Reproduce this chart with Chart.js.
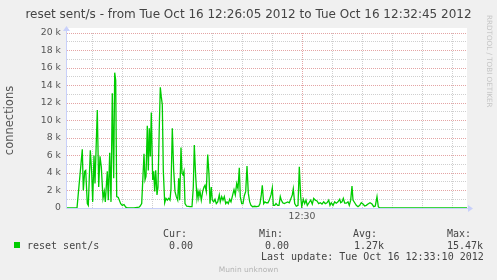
<!DOCTYPE html>
<html lang="en">
<head>
    <meta charset="UTF-8">
    <title>reset sent/s</title>
    <script src="https://cdn.jsdelivr.net/npm/chart.js"></script>
    <style>
        html, body { margin: 0; padding: 0; background: #f0f0f0; }
        #wrap { position: relative; width: 497px; height: 280px; overflow: hidden; }
        #chart { position: absolute; left: 0; top: 0; }
        .t { position: absolute; white-space: pre; line-height: 1; color: #444; }
        .sans { font-family: "DejaVu Sans", sans-serif; }
        .mono { font-family: "DejaVu Sans Mono", monospace; font-size: 10px; }
    </style>
</head>
<body>
    <div id="wrap">
        <canvas id="chart" width="497" height="280"></canvas>
        <div class="t sans" style="left:0; width:497px; text-align:center; top:8px; font-size:12px;">reset sent/s - from Tue Oct 16 12:26:05 2012 to Tue Oct 16 12:32:45 2012</div>
        <div class="t sans" style="left:493px; top:15px; font-size:7.2px; color:#c4c4c4; transform:rotate(90deg); transform-origin:0 0;">RRDTOOL / TOBI OETIKER</div>

        <!-- legend -->
        <div style="position:absolute; left:14px; top:242px; width:6px; height:6px; background:#00cc00;"></div>
        <div class="t mono" style="left:27px; top:240.5px;">reset sent/s</div>
        <div class="t mono" style="left:163px; top:229.2px;">Cur:</div>
        <div class="t mono" style="left:169px; top:240.5px;">0.00</div>
        <div class="t mono" style="left:259px; top:229.2px;">Min:</div>
        <div class="t mono" style="left:265px; top:240.5px;">0.00</div>
        <div class="t mono" style="left:353px; top:229.2px;">Avg:</div>
        <div class="t mono" style="left:354px; top:240.5px;">1.27k</div>
        <div class="t mono" style="left:447px; top:229.2px;">Max:</div>
        <div class="t mono" style="left:447px; top:240.5px;">15.47k</div>
        <div class="t mono" style="left:261px; top:252px;">Last update: Tue Oct 16 12:33:10 2012</div>
        <div class="t sans" style="left:0; width:497px; text-align:center; top:265.7px; font-size:7.5px; color:#b4b4b4;">Munin unknown</div>
    </div>

    <script>
        // seconds after 12:26:05
        const seconds = [0, 10, 15.3, 16.3, 17.7, 18.7, 20.3, 21.3, 23.3, 24.7, 25.7, 27, 28, 30.3, 31.7, 33, 34.3, 36, 37.3, 38.3,
            40.3, 41.3, 42.7, 44, 45.3, 46.7, 47.7, 48.7, 49.7, 51.3, 52.3, 53.7, 55.3, 57, 58.7, 61, 67, 72, 73, 74.7,
            77, 78, 79, 80.3, 81.3, 82.3, 83.3, 84.3, 85.7, 86.7, 87.7, 88.7, 90, 91, 92.3, 93.3, 94.3, 95.3, 96.3, 97.7,
            99, 100.3, 101.7, 103, 104, 105.3, 106.7, 108, 109.3, 110.7, 111.7, 112.7, 114, 115, 116, 117, 118, 119.7, 123, 125,
            126.3, 127.3, 128.7, 130, 131, 131.9, 133, 134.3, 135.7, 137, 138, 139.3, 140.7, 142, 143, 144.3, 145.3, 146.7, 148, 149.3,
            150.7, 152.3, 153.3, 154.7, 156, 157.3, 158.7, 160, 161.3, 162.7, 164, 165.7, 167, 168.3, 169.7, 171, 172.3, 173.3, 174.7, 176,
            177.3, 178.7, 180, 181.3, 182.7, 184, 185.7, 187.7, 189.7, 191.7, 193, 194.3, 195.3, 196.7, 198, 199.3, 201, 202.3, 204, 205.3,
            206.3, 207.7, 209, 210.7, 212, 213.3, 214.3, 215.7, 217.3, 219, 220.7, 222.3, 224, 225.3, 226.3, 227.7, 229.3, 231, 232.3, 233.7,
            234.7, 236.3, 237.7, 239, 240.3, 242, 243.7, 245.3, 246.7, 248.3, 250, 251.7, 253.3, 255, 256.7, 258.3, 260, 261.7, 263, 264.3,
            266, 267.7, 269.3, 271, 272.7, 273.7, 275, 276.3, 277.7, 279.3, 281, 282.3, 283.7, 285, 286, 287.7, 289.3, 291, 292.7, 294.3,
            296, 297.7, 299.3, 301, 303, 305, 306.7, 308.3, 310, 311.3, 312.7, 400];
        // reset sent/s
        const resets = [0, 0, 6700, 2000, 4200, 4300, 500, 300, 6600, 4000, 700, 6000, 2800, 11200, 2400, 5900, 4700, 1100, 1900, 700,
            4200, 900, 6300, 700, 13100, 3400, 15470, 14600, 1300, 1200, 900, 500, 300, 400, 100, 0, 0, 100, 200, 500,
            6200, 3200, 3600, 9400, 4300, 9100, 5900, 10900, 3200, 4200, 1900, 4300, 1500, 2400, 9300, 13800, 12700, 11800, 4300, 600,
            1100, 900, 1100, 900, 2200, 9100, 4300, 1900, 1300, 900, 3400, 900, 6900, 4000, 3800, 4200, 500, 200, 150, 150,
            2400, 7200, 3600, 1100, 1900, 1300, 1900, 900, 1900, 2400, 2600, 1900, 6100, 3800, 500, 2400, 900, 700, 1000, 500,
            700, 1500, 700, 1300, 900, 1300, 500, 700, 500, 1000, 700, 1500, 2100, 1500, 2800, 2200, 4600, 1300, 500, 500,
            1400, 1900, 4800, 1700, 700, 300, 150, 200, 150, 200, 500, 1500, 2600, 500, 700, 600, 600, 900, 1500, 2300,
            300, 300, 500, 300, 300, 1300, 900, 600, 500, 600, 700, 600, 1100, 1500, 2200, 500, 200, 300, 4700, 1300,
            150, 1000, 500, 900, 300, 600, 900, 450, 1100, 900, 800, 500, 600, 450, 700, 500, 600, 900, 300, 600,
            300, 700, 550, 700, 1000, 600, 700, 1100, 550, 550, 700, 300, 900, 2500, 900, 600, 300, 150, 300, 600,
            450, 230, 300, 450, 600, 450, 150, 230, 1300, 150, 0, 0];

        const xGridSeconds = [25, 55, 85, 115, 145, 175, 205, 235, 265, 295, 325, 355, 385];
        const xTickLabels = { 235: '12:30' };
        const yTickValues = [0, 1000, 2000, 3000, 4000, 5000, 6000, 7000, 8000, 9000, 10000,
            11000, 12000, 13000, 14000, 15000, 16000, 17000, 18000, 19000, 20000];

        const majorGrid = '#e4a4a4';
        const minorGrid = '#cfcfcf';
        const axisColor = '#c8d0fa';

        // white plot background, axis lines under the data, arrows on top
        const rrdFrame = {
            id: 'rrdFrame',
            beforeDraw(chart) {
                const { ctx, chartArea: a } = chart;
                ctx.save();
                ctx.fillStyle = '#ffffff';
                ctx.fillRect(a.left, a.top - 5, a.right - a.left, a.bottom - a.top + 5);
                ctx.restore();
            },
            beforeDatasetsDraw(chart) {
                const { ctx, chartArea: a } = chart;
                ctx.save();
                ctx.strokeStyle = axisColor;
                ctx.lineWidth = 1;
                ctx.beginPath();
                ctx.moveTo(a.left - 0.5, a.bottom + 0.5);
                ctx.lineTo(a.right + 2, a.bottom + 0.5);
                ctx.moveTo(a.left - 0.5, a.bottom + 0.5);
                ctx.lineTo(a.left - 0.5, a.top - 4);
                ctx.stroke();
                ctx.restore();
            },
            afterDatasetsDraw(chart) {
                const { ctx, chartArea: a } = chart;
                ctx.save();
                ctx.fillStyle = axisColor;
                ctx.beginPath();
                ctx.moveTo(a.right + 1, a.bottom - 3);
                ctx.lineTo(a.right + 6, a.bottom + 0.5);
                ctx.lineTo(a.right + 1, a.bottom + 4);
                ctx.closePath();
                ctx.fill();
                ctx.beginPath();
                ctx.moveTo(a.left - 4, a.top - 2);
                ctx.lineTo(a.left - 0.5, a.top - 7);
                ctx.lineTo(a.left + 3, a.top - 2);
                ctx.closePath();
                ctx.fill();
                ctx.restore();
            }
        };

        const ctx = document.getElementById('chart').getContext('2d');
        const chart = new Chart(ctx, {
            type: 'line',
            data: {
                datasets: [{
                    label: 'reset sent/s',
                    data: seconds.map((s, i) => ({ x: s, y: resets[i] })),
                    borderColor: '#00cc00',
                    borderWidth: 1.3,
                    pointRadius: 0,
                    tension: 0,
                    fill: false
                }]
            },
            options: {
                responsive: false,
                animation: false,
                layout: { padding: { top: 33, right: 30, left: 0, bottom: 0 } },
                plugins: { legend: { display: false }, tooltip: { enabled: false } },
                scales: {
                    x: {
                        type: 'linear', min: 0, max: 400,
                        afterBuildTicks: s => { s.ticks = xGridSeconds.map(v => ({ value: v })); },
                        afterFit: s => { s.height = 72; },
                        grid: { color: c => (c.tick && c.tick.value === 235 ? majorGrid : minorGrid), drawTicks: false, lineWidth: 1 },
                        border: { display: false, dash: [1, 1] },
                        ticks: {
                            autoSkip: false, maxRotation: 0, padding: 3, color: '#555',
                            font: { family: 'DejaVu Sans', size: 9.3 },
                            callback: v => xTickLabels[v] || ''
                        }
                    },
                    y: {
                        min: 0, max: 20000,
                        afterBuildTicks: s => { s.ticks = yTickValues.map(v => ({ value: v })); },
                        afterFit: s => { s.width = 67; },
                        grid: { color: c => (c.tick && c.tick.value % 2000 === 0 ? majorGrid : minorGrid), drawTicks: false, lineWidth: 1 },
                        border: { display: false, dash: [1, 1] },
                        ticks: {
                            autoSkip: false, padding: 6, color: '#555',
                            font: { family: 'DejaVu Sans', size: 9.3 },
                            callback: v => (v % 2000 ? '' : (v ? (v / 1000) + ' k' : '0'))
                        },
                        title: {
                            display: true, text: 'connections', color: '#555',
                            font: { family: 'DejaVu Sans', size: 11.5 },
                            padding: { top: 3, bottom: 0 }
                        }
                    }
                }
            },
            plugins: [rrdFrame]
        });
    </script>
</body>
</html>
